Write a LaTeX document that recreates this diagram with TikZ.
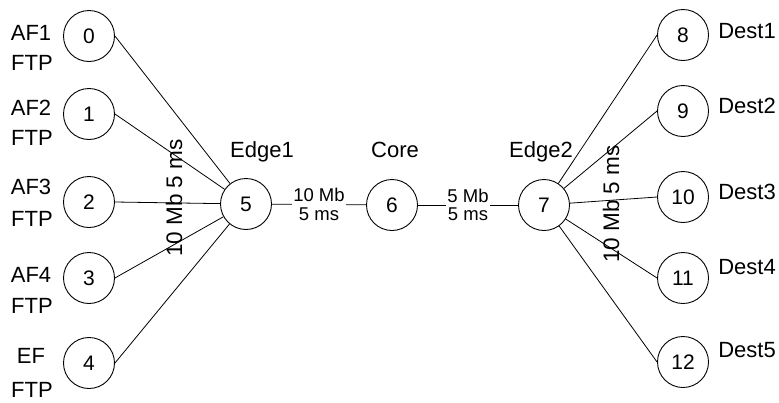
\documentclass[tikz,border=0pt]{standalone}
\usepackage{fontspec}
\setmainfont{Liberation Sans}
\begin{document}
\begin{tikzpicture}[x=1pt,y=-1pt,
  host/.style={circle,draw,line width=0.9pt,minimum size=51pt,inner sep=0pt,font=\fontsize{21}{22}\selectfont},
  tag/.style={font=\fontsize{22}{23}\selectfont,inner sep=0pt,anchor=base},
  linktag/.style={font=\fontsize{18.5}{18.5}\selectfont,align=center,inner sep=1.5pt},
  sidetag/.style={font=\fontsize{22.5}{23}\selectfont,inner sep=0pt,rotate=90},
  link/.style={line width=0.8pt}]
\useasboundingbox (0,0) rectangle (779,402);
% sources
\node[host] (n0) at (89,36) {0};
\node[host] (n1) at (89,114) {1};
\node[host] (n2) at (89,202) {2};
\node[host] (n3) at (89,278) {3};
\node[host] (n4) at (89,363) {4};
% class / protocol labels
\node[tag] (l0a) at (31,40) {AF1};
\node[tag] (l0b) at (32,70) {FTP};
\node[tag] (l1a) at (31,115) {AF2};
\node[tag] (l1b) at (32,145) {FTP};
\node[tag] (l2a) at (31,194) {AF3};
\node[tag] (l2b) at (32,226) {FTP};
\node[tag] (l3a) at (31,282) {AF4};
\node[tag] (l3b) at (32,313) {FTP};
\node[tag] (l4a) at (31,363) {EF};
\node[tag] (l4b) at (32,397) {FTP};
% routers
\node[host] (n5) at (246,204) {5};
\node[host] (n6) at (392,205) {6};
\node[host] (n7) at (544,205) {7};
\node[tag] (e1) at (262,157) {Edge1};
\node[tag] (co) at (395,157) {Core};
\node[tag] (e2) at (541,157) {Edge2};
% destinations
\node[host] (n8) at (683,35) {8};
\node[host] (n9) at (683,111) {9};
\node[host] (n10) at (683,197) {10};
\node[host] (n11) at (683,278) {11};
\node[host] (n12) at (683,362) {12};
\node[tag] (d1) at (747,38) {Dest1};
\node[tag] (d2) at (747,113) {Dest2};
\node[tag] (d3) at (747,199) {Dest3};
\node[tag] (d4) at (747,274) {Dest4};
\node[tag] (d5) at (747,357) {Dest5};
% access links
\foreach \i in {0,...,4}{\draw[link] (n\i.east) -- (n5);}
\foreach \i in {8,...,12}{\draw[link] (n7) -- (n\i.west);}
% backbone links
\draw[link] (n5) -- node[linktag,fill=white] {10 Mb\\5 ms} (n6);
\draw[link] (n6) -- node[linktag,fill=white] {5 Mb\\5 ms} (n7);
\node[sidetag] (lk1) at (174,198) {10 Mb 5 ms};
\node[sidetag] (lk2) at (611,204) {10 Mb 5 ms};
\end{tikzpicture}
\end{document}
